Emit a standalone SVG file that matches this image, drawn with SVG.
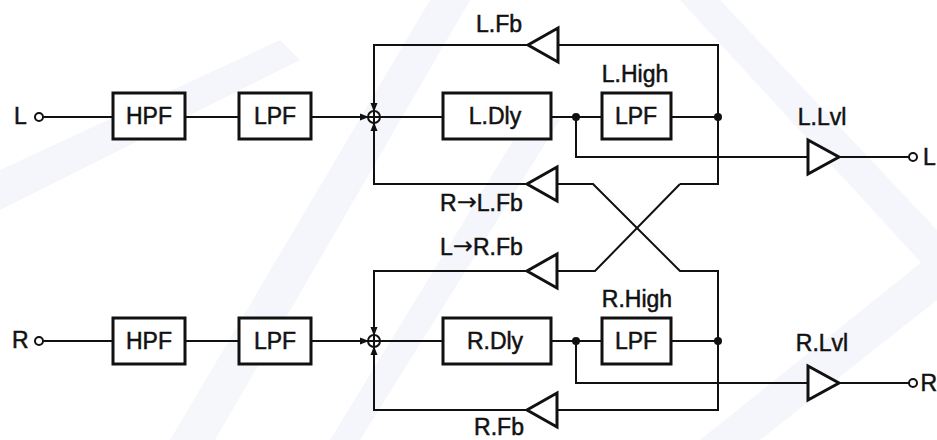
<svg xmlns="http://www.w3.org/2000/svg" width="937" height="440" viewBox="0 0 937 440">
<style>
.bg{fill:#e9edf7;}
.ln{fill:none;stroke:#111;stroke-width:2;}
.bx{fill:#fff;stroke:#111;stroke-width:3;}
.tri{fill:#fff;stroke:#111;stroke-width:3;stroke-linejoin:miter;}
.dot{fill:#111;}
.port{fill:#fff;stroke:#111;stroke-width:2;}
.sum{fill:#fff;stroke:#111;stroke-width:2;}
text{font-family:"Liberation Sans",Arial,sans-serif;font-size:23px;fill:#111;stroke:#111;stroke-width:0.5;}
.c{text-anchor:middle;}
.ar{font-family:"DejaVu Sans",sans-serif;font-size:24px;stroke-width:0.2;}
</style>
<defs>
<marker id="ah" markerWidth="9" markerHeight="8" refX="8" refY="4" orient="auto" markerUnits="userSpaceOnUse">
<path d="M0,0.5 L9,4 L0,7.5 Z" fill="#111"/>
</marker>
</defs>
<rect width="937" height="440" fill="#fff"/>
<g id="watermark" opacity="0.45">
<polygon class="bg" points="170,440 215,440 470,0 430,0"/>
<polygon class="bg" points="330,440 360,440 560,120 535,105"/>
<polygon class="bg" points="680,0 720,0 937,230 937,280"/>
<polygon class="bg" points="700,440 760,440 937,300 937,250"/>
<polygon class="bg" points="0,170 0,210 300,60 280,40"/>
</g>
<g id="connectors">
<path class="ln" d="M43,117 H113"/>
<path class="ln" d="M185,117 H239"/>
<path class="ln" d="M311,117 H368" marker-end="url(#ah)"/>
<path class="ln" d="M380,117 H443"/>
<path class="ln" d="M551,117 H602"/>
<path class="ln" d="M671,117 H718"/>
<path class="ln" d="M680,184 H718 V45 H558"/>
<path class="ln" d="M528,45 H374 V111" marker-end="url(#ah)"/>
<path class="ln" d="M680,184 L595,271 H557"/>
<path class="ln" d="M527,271 H374 V335" marker-end="url(#ah)"/>
<path class="ln" d="M557,184 H593 L680,271 H718 V410 H557"/>
<path class="ln" d="M527,184 H374 V123" marker-end="url(#ah)"/>
<path class="ln" d="M576,117 V157 H808"/>
<path class="ln" d="M839,157 H909"/>
<path class="ln" d="M43,341 H113"/>
<path class="ln" d="M185,341 H239"/>
<path class="ln" d="M311,341 H368" marker-end="url(#ah)"/>
<path class="ln" d="M380,341 H443"/>
<path class="ln" d="M551,341 H602"/>
<path class="ln" d="M671,341 H718"/>
<path class="ln" d="M527,410 H374 V347" marker-end="url(#ah)"/>
<path class="ln" d="M576,341 V383 H808"/>
<path class="ln" d="M839,383 H909"/>
<circle class="dot" cx="576" cy="117" r="4"/>
<circle class="dot" cx="718" cy="117" r="4"/>
<circle class="dot" cx="576" cy="341" r="4"/>
<circle class="dot" cx="718" cy="341" r="4"/>
</g>
<g id="L_in"><circle class="port" cx="39" cy="117" r="4"/><text x="14" y="124">L</text></g>
<g id="L_HPF"><rect class="bx" x="113" y="93" width="72" height="46"/><text class="c" x="149" y="124">HPF</text></g>
<g id="L_LPF"><rect class="bx" x="239" y="93" width="72" height="46"/><text class="c" x="275" y="124">LPF</text></g>
<g id="L_sum"><circle class="sum" cx="374" cy="117" r="6"/><path class="ln" d="M368,117 H380 M374,111 V123"/></g>
<g id="L_Dly"><rect class="bx" x="443" y="93" width="108" height="46"/><text class="c" x="495" y="124">L.Dly</text></g>
<g id="L_High"><rect class="bx" x="602" y="93" width="69" height="46"/><text class="c" x="636" y="124">LPF</text><text class="c" x="635" y="82">L.High</text></g>
<g id="L_Fb"><polygon class="tri" points="558,28 558,62 528,45"/><text class="c" x="499" y="32">L.Fb</text></g>
<g id="RL_Fb"><polygon class="tri" points="557,167 557,201 527,184"/><text x="440" y="211">R<tspan class="ar" dy="-1">→</tspan><tspan dy="1">L.Fb</tspan></text></g>
<g id="L_Lvl"><polygon class="tri" points="808,140 808,174 839,157"/><text class="c" x="822" y="125">L.Lvl</text></g>
<g id="L_out"><circle class="port" cx="913" cy="157" r="4"/><text x="923" y="165">L</text></g>
<g id="R_in"><circle class="port" cx="39" cy="341" r="4"/><text x="12" y="348">R</text></g>
<g id="R_HPF"><rect class="bx" x="113" y="318" width="72" height="46"/><text class="c" x="149" y="349">HPF</text></g>
<g id="R_LPF"><rect class="bx" x="239" y="318" width="72" height="46"/><text class="c" x="275" y="349">LPF</text></g>
<g id="R_sum"><circle class="sum" cx="374" cy="341" r="6"/><path class="ln" d="M368,341 H380 M374,335 V347"/></g>
<g id="R_Dly"><rect class="bx" x="443" y="318" width="108" height="46"/><text class="c" x="495" y="349">R.Dly</text></g>
<g id="R_High"><rect class="bx" x="602" y="318" width="69" height="46"/><text class="c" x="636" y="349">LPF</text><text class="c" x="637" y="307">R.High</text></g>
<g id="LR_Fb"><polygon class="tri" points="557,254 557,288 527,271"/><text x="440" y="255">L<tspan class="ar" dy="-1">→</tspan><tspan dy="1">R.Fb</tspan></text></g>
<g id="R_Fb"><polygon class="tri" points="557,393 557,427 527,410"/><text class="c" x="499" y="435">R.Fb</text></g>
<g id="R_Lvl"><polygon class="tri" points="808,366 808,400 839,383"/><text class="c" x="822" y="351">R.Lvl</text></g>
<g id="R_out"><circle class="port" cx="913" cy="383" r="4"/><text x="920.5" y="391">R</text></g>
</svg>
